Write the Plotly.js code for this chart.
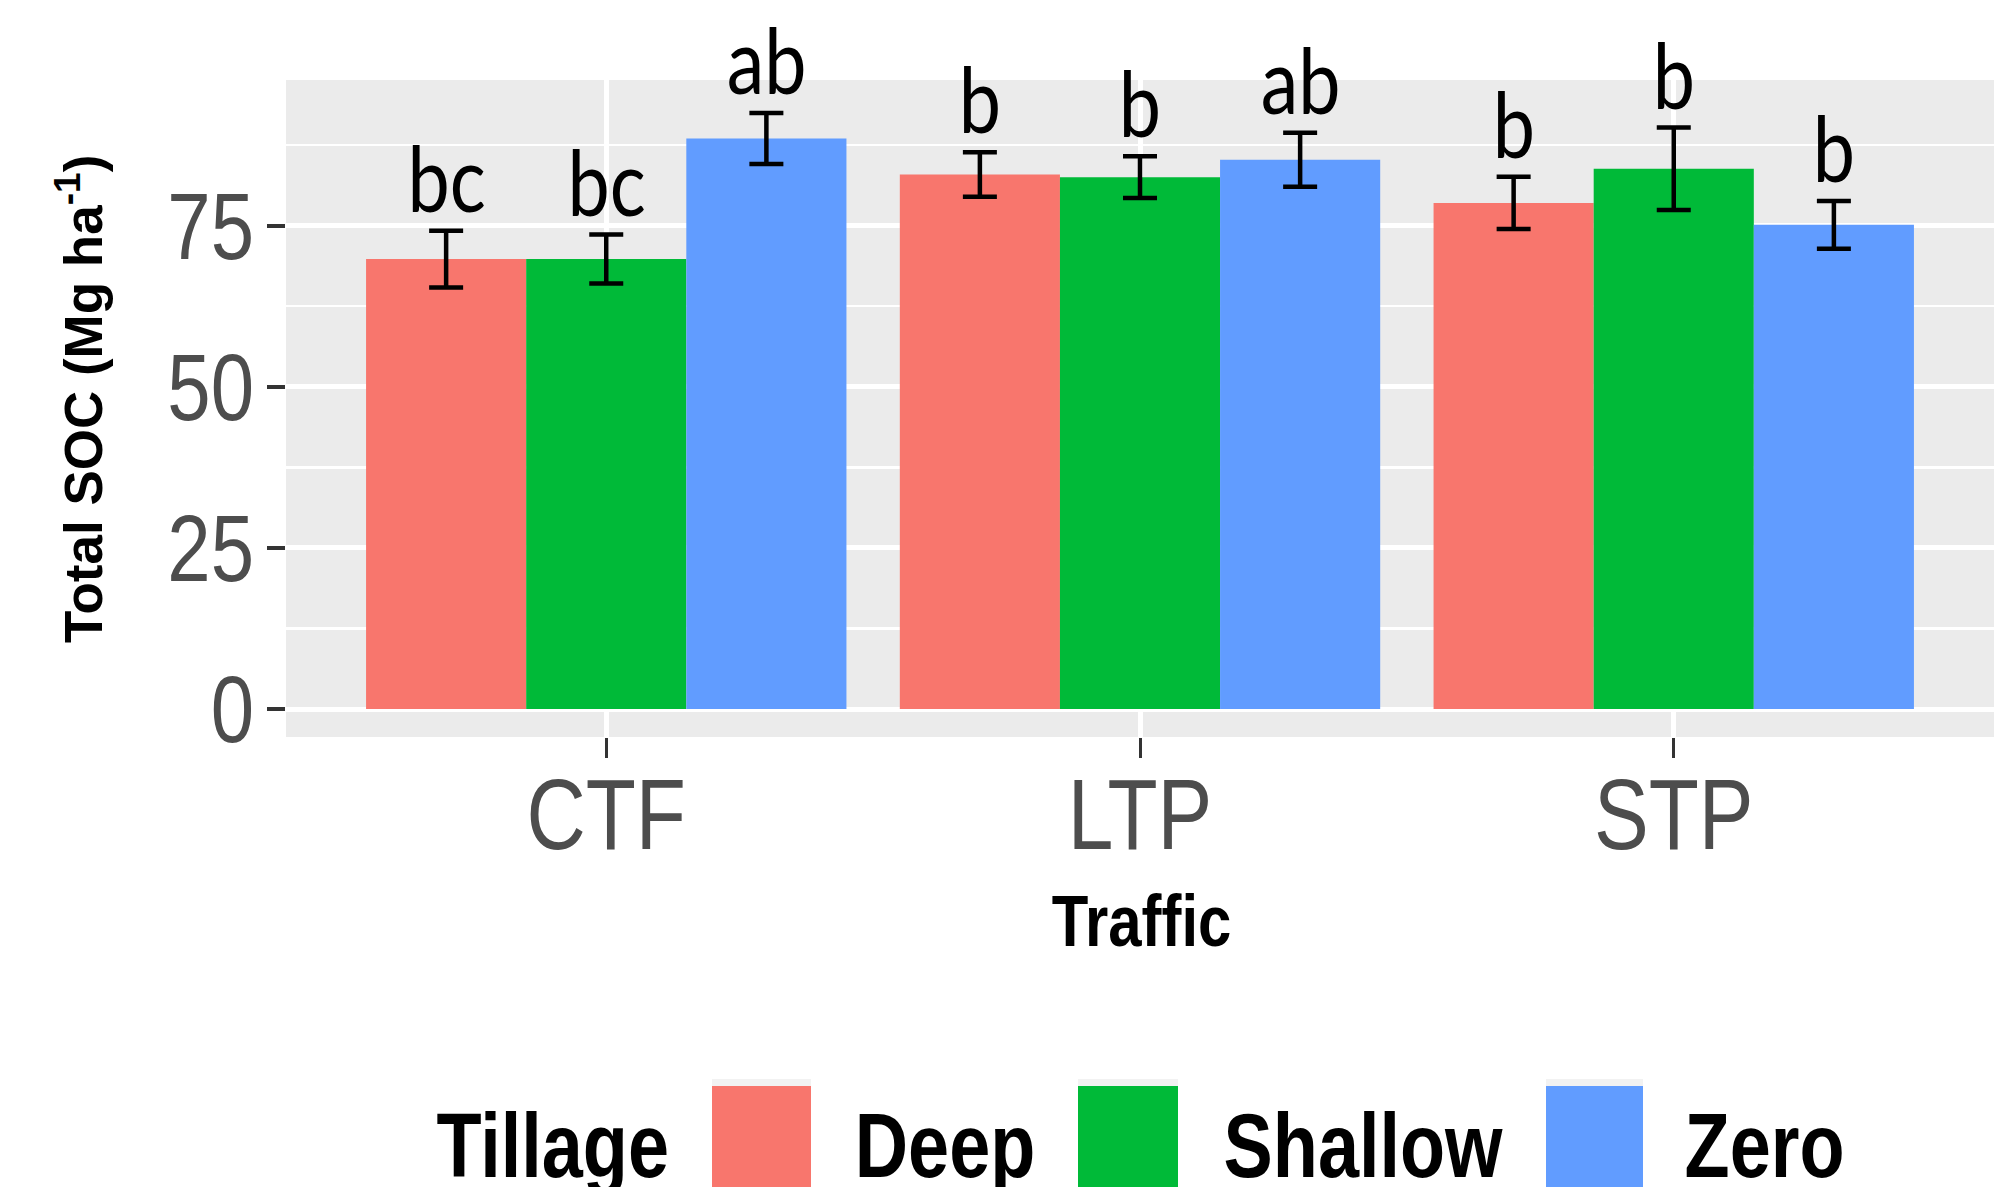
<!DOCTYPE html>
<html>
<head>
<meta charset="utf-8">
<script src="https://cdn.plot.ly/plotly-3.0.1.min.js"></script>
<style>html,body{margin:0;padding:0;background:#fff;} #chart{width:2005px;height:1187px;}</style>
</head>
<body>
<div id="chart"></div>
<script>
// ---- data ----
const categories = ['CTF', 'LTP', 'STP'];
const tillage = ['Deep', 'Shallow', 'Zero'];
const deepSOC = [69.8, 82.9, 78.5];
const shallowSOC = [69.8, 82.5, 83.8];
const zeroSOC = [88.5, 85.2, 75.1];
const deepErr = [4.4, 3.45, 4.05];
const shallowErr = [3.8, 3.25, 6.4];
const zeroErr = [3.95, 4.2, 3.7];
const deepLetters = ['bc', 'b', 'b'];
const shallowLetters = ['bc', 'b', 'b'];
const zeroLetters = ['ab', 'ab', 'b'];

// ---- style ----
const colors = ['#F8766D', '#00BA38', '#619CFF'];
const W = 2005, H = 1187, ML = 286, MR = 11, MT = 80, MB = 450;
const sans = '"Liberation Sans", Arial, sans-serif';
const px2x = p => (p - ML) / (W - ML - MR);
const py2y = p => (H - MB - p) / (H - MT - MB);
const NARROW = 0.82;

const values = [deepSOC, shallowSOC, zeroSOC];
const errs = [deepErr, shallowErr, zeroErr];
const letters = [deepLetters, shallowLetters, zeroLetters];

const traces = tillage.map((name, k) => ({
  type: 'bar', name: name, x: categories, y: values[k],
  marker: {color: colors[k]},
  error_y: {type: 'data', array: errs[k], visible: true, color: '#000000', thickness: 4.5, width: 17},
  hoverinfo: 'skip', showlegend: false
}));

const annotations = [];
const squeezeIdx = [];
const offsets = [-0.3, 0, 0.3];
letters.forEach((arr, k) => {
  arr.forEach((t, j) => {
    squeezeIdx.push(annotations.length);
    annotations.push({
      xref: 'x', yref: 'y', x: j + offsets[k], y: values[k][j] + errs[k][j],
      text: t, showarrow: false, xanchor: 'center', yanchor: 'bottom', yshift: -3,
      font: {family: 'Lato, "Open Sans", sans-serif', size: 92, color: '#000'}
    });
  });
});

// y title
annotations.push({
  xref: 'paper', yref: 'paper', x: px2x(79), y: py2y(399), textangle: -90,
  text: 'Total SOC (Mg ha<sup>-1</sup>)', showarrow: false, xanchor: 'center', yanchor: 'middle',
  font: {family: sans, size: 53, color: '#000', weight: 'bold'}
});
// x title
squeezeIdx.push(annotations.length);
annotations.push({
  xref: 'paper', yref: 'paper', x: px2x(1141), y: py2y(920),
  text: 'Traffic', showarrow: false, xanchor: 'center', yanchor: 'middle',
  font: {family: sans, size: 73, color: '#000', weight: 'bold'}
});

// custom legend (drawn as shapes + texts, big keys like the reference)
const shapes = [];
const keyX = [[712, 811], [1078, 1178], [1546, 1643]];
const textCX = [945, 1363, 1764];
squeezeIdx.push(annotations.length);
annotations.push({
  xref: 'paper', yref: 'paper', x: px2x(552), y: py2y(1146),
  text: 'Tillage', showarrow: false, xanchor: 'center', yanchor: 'middle',
  font: {family: sans, size: 90, color: '#000', weight: 'bold'}
});
tillage.forEach((name, k) => {
  shapes.push({type: 'rect', xref: 'paper', yref: 'paper', x0: px2x(keyX[k][0]), x1: px2x(keyX[k][1]),
    y0: py2y(1079), y1: py2y(1200), fillcolor: '#F2F2F2', line: {width: 0}, layer: 'above'});
  shapes.push({type: 'rect', xref: 'paper', yref: 'paper', x0: px2x(keyX[k][0]), x1: px2x(keyX[k][1]),
    y0: py2y(1086), y1: py2y(1200), fillcolor: colors[k], line: {width: 0}, layer: 'above'});
  squeezeIdx.push(annotations.length);
  annotations.push({
    xref: 'paper', yref: 'paper', x: px2x(textCX[k]), y: py2y(1146),
    text: name, showarrow: false, xanchor: 'center', yanchor: 'middle',
    font: {family: sans, size: 90, color: '#000', weight: 'bold'}
  });
});

const layout = {
  width: W, height: H,
  margin: {l: ML, r: MR, t: MT, b: MB, pad: 0},
  paper_bgcolor: '#FFFFFF', plot_bgcolor: '#EBEBEB',
  barmode: 'group', bargap: 0.1, bargroupgap: 0,
  showlegend: false,
  xaxis: {
    type: 'category', range: [-0.6, 2.6], categoryorder: 'array', categoryarray: categories,
    showgrid: true, gridcolor: '#FFFFFF', gridwidth: 5, zeroline: false, showline: false,
    ticks: 'outside', ticklen: 20, tickwidth: 3, tickcolor: '#333333', ticklabelstandoff: -29,
    tickfont: {family: sans, size: 100, color: '#4D4D4D'}, fixedrange: true
  },
  yaxis: {
    range: [-4.34, 97.57], tickmode: 'linear', tick0: 0, dtick: 25,
    showgrid: true, gridcolor: '#FFFFFF', gridwidth: 5, zeroline: false, showline: false,
    minor: {tick0: 12.5, dtick: 25, showgrid: true, gridcolor: '#FFFFFF', gridwidth: 2.5, ticks: ''},
    ticks: 'outside', ticklen: 18, tickwidth: 4, tickcolor: '#333333', ticklabelstandoff: -6,
    tickfont: {family: sans, size: 95, color: '#4D4D4D'}, fixedrange: true
  },
  annotations: annotations,
  shapes: shapes
};

Plotly.newPlot('chart', traces, layout, {staticPlot: true, displayModeBar: false}).then(gd => {
  const squeeze = el => {
    const w = el.getComputedTextLength();
    if (w > 0) {
      el.setAttribute('textLength', (w * NARROW).toFixed(2));
      el.setAttribute('lengthAdjust', 'spacingAndGlyphs');
    }
  };
  gd.querySelectorAll('.xtick text, .ytick text').forEach(squeeze);
  squeezeIdx.forEach(i => {
    const el = gd.querySelector('.annotation[data-index="' + i + '"] .annotation-text');
    if (el) squeeze(el);
  });
});
</script>
</body>
</html>
